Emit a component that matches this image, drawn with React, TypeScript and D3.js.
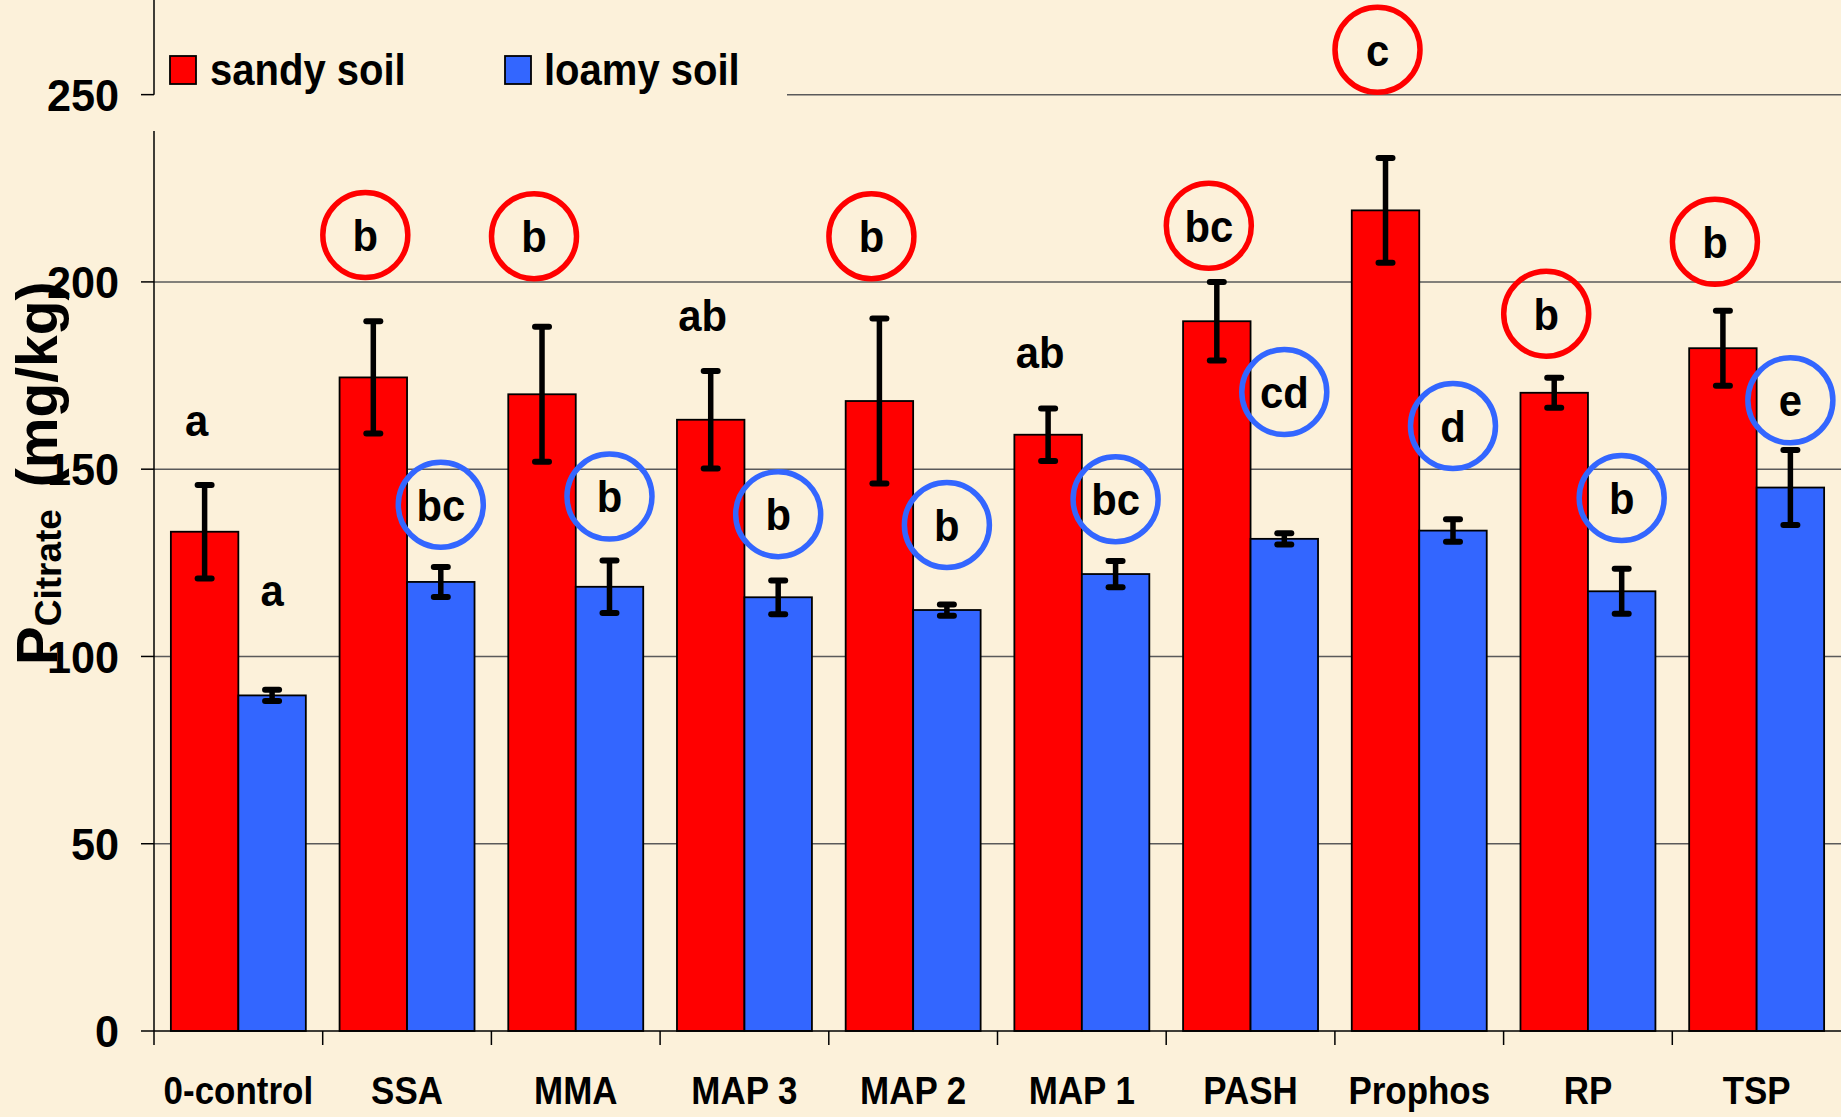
import React from "react";
import * as d3 from "d3";

const categories = ["0-control", "SSA", "MMA", "MAP 3", "MAP 2", "MAP 1", "PASH", "Prophos", "RP", "TSP"];
const sandyValues = [133.3, 174.5, 170, 163.2, 168.2, 159.2, 189.5, 219.1, 170.4, 182.3];
const sandyErrors = [12.5, 15, 18, 13, 22, 7, 10.5, 14, 4, 10];
const loamyValues = [89.6, 119.9, 118.6, 115.8, 112.4, 122, 131.4, 133.6, 117.4, 145.1];
const loamyErrors = [1.5, 4, 7, 4.5, 1.5, 3.5, 1.5, 3, 6, 10];
const sandyLetters = ["a", "b", "b", "ab", "b", "ab", "bc", "c", "b", "b"];
const sandyCircled = [false, true, true, false, true, false, true, true, true, true];
const sandyLetterAt = [163, 212.5, 212.2, 191.2, 212.2, 181.2, 215, 262, 191.5, 210.7];
const loamyLetters = ["a", "bc", "b", "b", "b", "bc", "cd", "d", "b", "e"];
const loamyCircled = [false, true, true, true, true, true, true, true, true, true];
const loamyLetterAt = [117.6, 140.5, 142.7, 138, 135.1, 142, 170.6, 161.5, 142.3, 168.4];
const yTicks = [0, 50, 100, 150, 200, 250];
const seriesNames = ["sandy soil", "loamy soil"];

const W = 1841;
const H = 1117;
const BG = "#fcf1da";
const RED = "#ff0000";
const BLUE = "#3366ff";
const FONT = "'Liberation Sans', Arial, sans-serif";

function Txt(props: { x: number; y: number; sx?: number; anchor?: string; size: number; dy?: string; children: React.ReactNode }) {
  const { x, y, sx = 1, anchor = "start", size, dy, children } = props;
  return (
    <text transform={`translate(${x},${y}) scale(${sx},1)`} textAnchor={anchor} fontSize={size} fontWeight="bold" dy={dy}>
      {children}
    </text>
  );
}

export default function App() {
  const x = d3.scaleBand<string>().domain(categories).range([154, 1841]).paddingInner(0).paddingOuter(0);
  const inner = d3.scaleBand<string>().domain(["sandy", "loamy"]).range([0, x.bandwidth()]).paddingOuter(0.25).paddingInner(0);
  const y = d3.scaleLinear().domain([0, 275]).range([1031, 1]);
  const bw = inner.bandwidth();

  const series = [
    { key: "sandy", values: sandyValues, errors: sandyErrors, color: RED, letters: sandyLetters, circled: sandyCircled, at: sandyLetterAt, dx: -8 },
    { key: "loamy", values: loamyValues, errors: loamyErrors, color: BLUE, letters: loamyLetters, circled: loamyCircled, at: loamyLetterAt, dx: 0 },
  ];

  return (
    <svg width={W} height={H} style={{ display: "block", position: "absolute", left: 0, top: 0 }} fontFamily={FONT}>
      <rect x={0} y={0} width={W} height={H} fill={BG} />
      {yTicks.filter((t) => t > 0).map((t) => (
        <line key={t} x1={154} x2={W} y1={y(t)} y2={y(t)} stroke="#5a5a5a" strokeWidth={1.5} />
      ))}
      <rect x={150} y={20} width={637} height={111} fill={BG} />
      {series.map((s) =>
        categories.map((c, i) => (
          <rect key={s.key + c} x={(x(c) as number) + (inner(s.key) as number)} y={y(s.values[i])} width={bw} height={y(0) - y(s.values[i])} fill={s.color} stroke="#000" strokeWidth={1.8} />
        ))
      )}
      {series.map((s) =>
        categories.map((c, i) => {
          const cx = (x(c) as number) + (inner(s.key) as number) + bw / 2;
          const top = y(s.values[i] + s.errors[i]);
          const bot = y(s.values[i] - s.errors[i]);
          return (
            <g key={"e" + s.key + c} stroke="#000">
              <line x1={cx} x2={cx} y1={top} y2={bot} strokeWidth={5.5} />
              <line x1={cx - 7} x2={cx + 7} y1={top} y2={top} strokeWidth={6} strokeLinecap="round" />
              <line x1={cx - 7} x2={cx + 7} y1={bot} y2={bot} strokeWidth={6} strokeLinecap="round" />
            </g>
          );
        })
      )}
      <line x1={154} x2={154} y1={0} y2={y(250)} stroke="#000" strokeWidth={1.5} />
      <line x1={154} x2={154} y1={131} y2={y(0)} stroke="#000" strokeWidth={1.5} />
      <line x1={154} x2={W} y1={y(0)} y2={y(0)} stroke="#000" strokeWidth={1.5} />
      {yTicks.map((t) => (
        <g key={"t" + t}>
          <line x1={141} x2={154} y1={y(t)} y2={y(t)} stroke="#000" strokeWidth={1.5} />
          <Txt x={119} y={y(t)} dy="0.36em" anchor="end" size={45} sx={0.96}>{t}</Txt>
        </g>
      ))}
      {categories.map((c) => (
        <line key={"ct" + c} x1={x(c) as number} x2={x(c) as number} y1={y(0)} y2={y(0) + 14} stroke="#000" strokeWidth={1.5} />
      ))}
      {categories.map((c) => (
        <Txt key={"cl" + c} x={(x(c) as number) + x.bandwidth() / 2} y={1104} anchor="middle" size={38} sx={0.92}>{c}</Txt>
      ))}
      {series.map((s) =>
        categories.map((c, i) => {
          const cx = (x(c) as number) + (inner(s.key) as number) + bw / 2 + s.dx;
          const cy = y(s.at[i]);
          return (
            <g key={"l" + s.key + c}>
              {s.circled[i] && <ellipse cx={cx} cy={cy} rx={42.5} ry={42.5} fill="none" stroke={s.color} strokeWidth={5.5} />}
              <Txt x={cx} y={cy} dy="0.36em" anchor="middle" size={44} sx={0.95}>{s.letters[i]}</Txt>
            </g>
          );
        })
      )}
      <rect x={170} y={56} width={26} height={28} fill={RED} stroke="#000" strokeWidth={1.8} />
      <Txt x={210} y={85} size={44} sx={0.91}>{seriesNames[0]}</Txt>
      <rect x={505} y={56} width={26} height={28} fill={BLUE} stroke="#000" strokeWidth={1.8} />
      <Txt x={544} y={85} size={44} sx={0.91}>{seriesNames[1]}</Txt>
      <text transform="translate(57,665) rotate(-90)" fontWeight="bold">
        <tspan fontSize={58}>P</tspan>
        <tspan fontSize={37} dy={4}>Citrate</tspan>
        <tspan fontSize={57} dy={-4} dx={6}> (mg/kg)</tspan>
      </text>
    </svg>
  );
}
